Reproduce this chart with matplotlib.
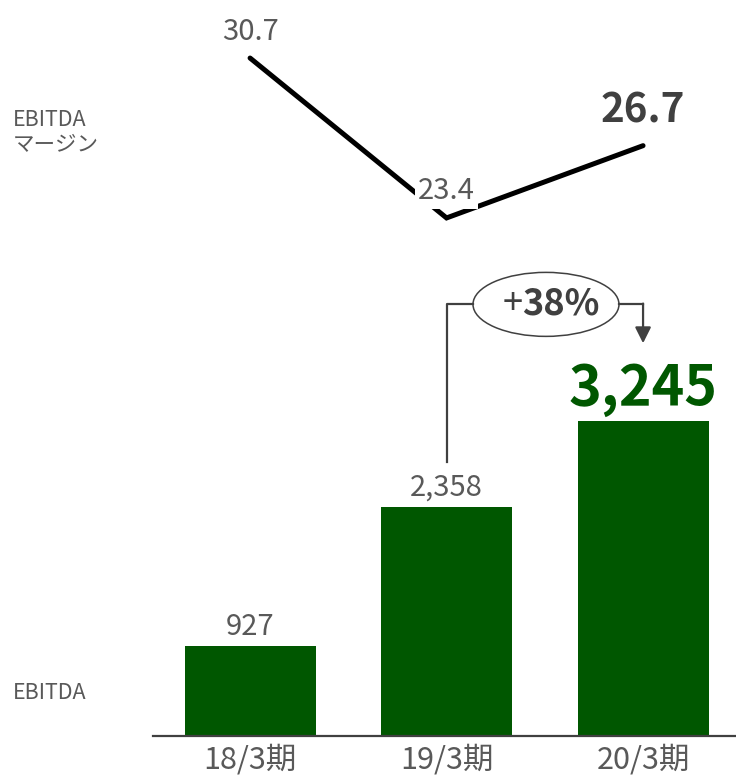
import matplotlib
matplotlib.use("Agg")
import matplotlib.pyplot as plt
from matplotlib.patches import Ellipse

# EBITDA (百万円) とマージン (%) の推移
periods = ["18/3期", "19/3期", "20/3期"]
ebitda = [927, 2358, 3245]
margin = [30.7, 23.4, 26.7]

GREEN = "#005700"
GRAY = "#595959"
DARK = "#404040"
JP = ["Noto Sans CJK JP", "DejaVu Sans"]

W, H = 736, 776
fig = plt.figure(figsize=(W / 100, H / 100), dpi=100)
fig.patch.set_facecolor("white")

x0, x1 = 153, 736          # 横方向の描画範囲 (px)
base, split = 736, 260      # 棒グラフの基線と上下の境目 (px)
xlim = (-0.494, 2.473)

# --- 下段: EBITDA 棒グラフ ---
axb = fig.add_axes([x0 / W, 1 - base / H, (x1 - x0) / W, (base - split) / H])
axb.bar(range(len(ebitda)), ebitda, width=0.667, color=GREEN)
axb.set_xlim(*xlim)
axb.set_ylim(0, 4902)
for s in ("top", "right", "left"):
    axb.spines[s].set_visible(False)
axb.spines["bottom"].set_color(DARK)
axb.spines["bottom"].set_linewidth(1.6)
axb.set_yticks([])
axb.set_xticks(range(len(periods)))
axb.set_xticklabels(periods, family=JP, fontsize=22, color=GRAY)
axb.tick_params(axis="x", length=0, pad=6)

for i, v in enumerate(ebitda):
    last = i == len(ebitda) - 1
    axb.annotate(f"{v:,}", (i, v), xytext=(0, 11.5 if last else 8),
                 textcoords="offset points", ha="center", va="baseline",
                 family=JP, fontsize=40 if last else 21,
                 fontweight="bold" if last else "normal",
                 color=GREEN if last else GRAY, annotation_clip=False)

# 伸び率の吹き出し
growth = round((ebitda[2] / ebitda[1] - 1) * 100)
start_y = ebitda[1] + 465
bracket_y = ebitda[2] + 1200
tip_y = ebitda[2] + 800
ex, ew, eh = 1.506, 0.743, 659
axb.plot([1, 1, ex - ew / 2], [start_y, bracket_y, bracket_y], color=DARK, lw=1.6,
         clip_on=False)
axb.plot([ex + ew / 2, 2], [bracket_y, bracket_y], color=DARK, lw=1.6, clip_on=False)
axb.annotate("", xy=(2, tip_y), xytext=(2, bracket_y + 8),
             arrowprops=dict(arrowstyle="-|>", color=DARK, lw=1.6, mutation_scale=24,
                             shrinkA=0, shrinkB=0), annotation_clip=False)
axb.add_patch(Ellipse((ex, bracket_y), ew, eh, fc="white", ec=DARK, lw=1.1,
                      clip_on=False))
# 「+」は細字、数字部分は太字
axb.annotate("+", (ex, bracket_y), xytext=(-17, 0), textcoords="offset points",
             ha="right", va="center", family=JP, fontsize=26, color=DARK,
             annotation_clip=False)
axb.annotate(f"{growth}%", (ex, bracket_y), xytext=(-17, 0), textcoords="offset points",
             ha="left", va="center", family=JP, fontsize=26, fontweight="bold",
             color=DARK, annotation_clip=False)

# --- 上段: EBITDA マージン 折れ線 ---
axl = fig.add_axes([x0 / W, 1 - split / H, (x1 - x0) / W, split / H])
axl.plot(range(len(margin)), margin, color="black", lw=3.6,
         solid_joinstyle="miter", solid_capstyle="round")
axl.set_xlim(*xlim)
axl.set_ylim(21.48, 33.35)
axl.axis("off")

offs = [13, 13.5, 16.5]
for i, v in enumerate(margin):
    last = i == len(margin) - 1
    kw = {}
    if i == 1:
        kw["bbox"] = dict(boxstyle="square,pad=0.1", fc="white", ec="none")
    axl.annotate(f"{v:.1f}", (i, v), xytext=(0, offs[i]), textcoords="offset points",
                 ha="center", va="baseline", family=JP,
                 fontsize=29 if last else 21,
                 fontweight="bold" if last else "normal",
                 color=DARK if last else GRAY, annotation_clip=False, **kw)

# 左側の系列名
fig.text(13 / W, 1 - 151 / H, "EBITDA\nマージン", family=JP, fontsize=15.5,
         color=GRAY, ha="left", va="baseline", linespacing=1.15)
fig.text(13 / W, 1 - 699 / H, "EBITDA", family=JP, fontsize=15.5, color=GRAY,
         ha="left", va="baseline")

fig.savefig("out.png", dpi=100)
